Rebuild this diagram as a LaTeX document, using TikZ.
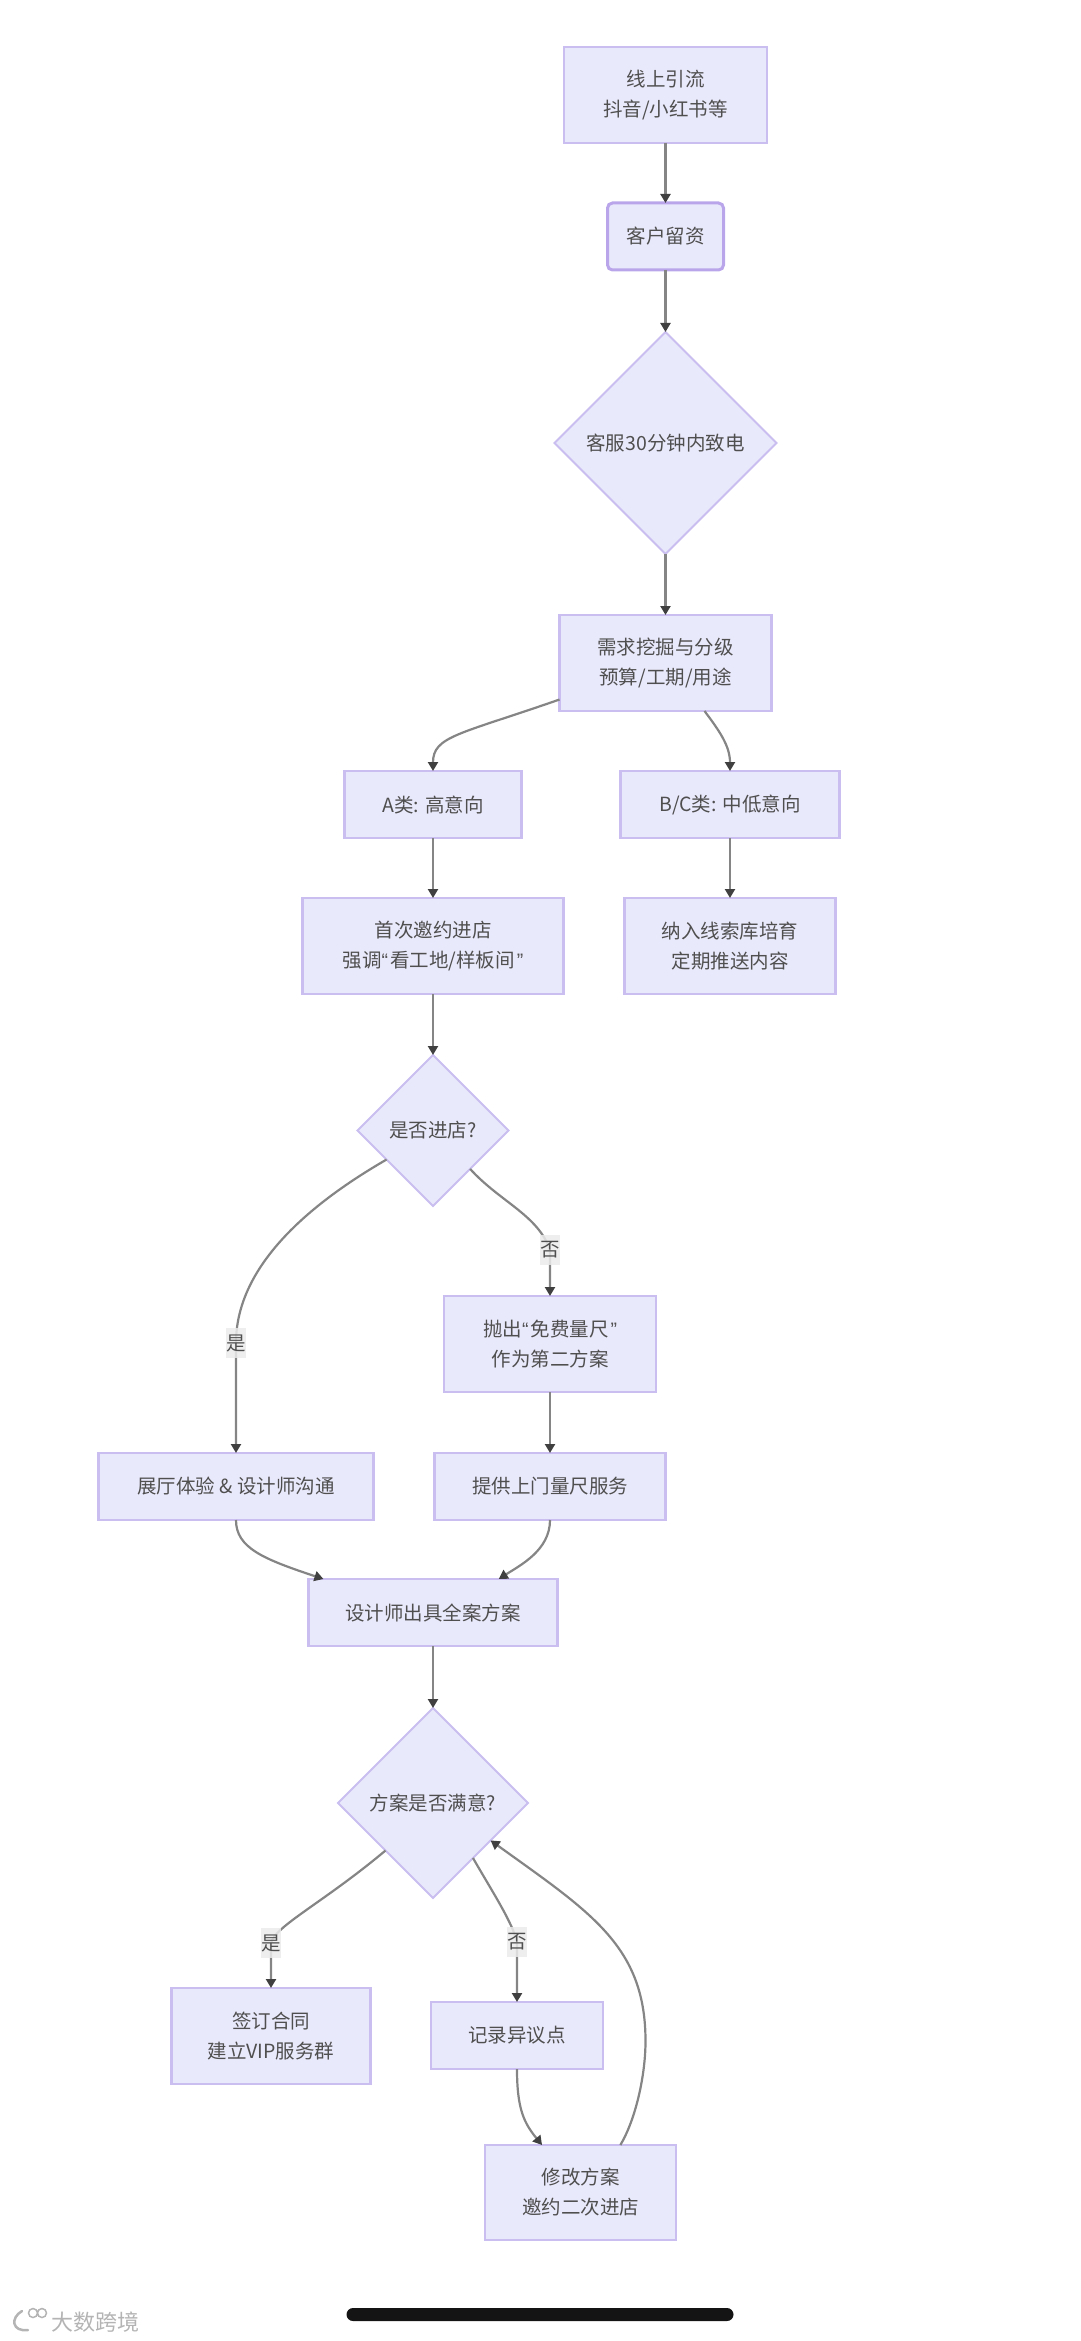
\documentclass[tikz,border=0pt]{standalone}
\usepackage{fontspec}
\setmainfont{Noto Sans CJK SC}
\newfontfamily\quotefont{Liberation Sans}
\usepackage{xcolor}
\usetikzlibrary{positioning,arrows.meta,shapes.geometric}
\definecolor{nodefill}{HTML}{E9E9FC}
\definecolor{nodeline}{HTML}{C9BEEF}
\definecolor{keyline}{HTML}{B9A6EA}
\definecolor{textgray}{HTML}{4F4F4F}
\definecolor{edgegray}{HTML}{858585}
\definecolor{tipgray}{HTML}{404040}
\definecolor{markgray}{HTML}{B4B4B4}
\newcommand{\qo}{{\quotefont “}\kern2pt}
\newcommand{\qc}{\kern2pt{\quotefont ”}}

\begin{document}
\begin{tikzpicture}[
  x=1pt, y=1pt,
  txt/.style={font=\fontsize{19.5}{30}\selectfont, text=textgray, align=center, inner sep=0pt, outer sep=0pt},
  box/.style={txt, draw=nodeline, line width=2.4pt, fill=nodefill, minimum height=#1},
  box/.default=67pt,
  choice/.style={txt, diamond, aspect=1, draw=nodeline, line width=2pt, fill=nodefill, minimum width=#1, minimum height=#1},
  arr/.style={draw=edgegray, line width=2.2pt, -{Triangle[length=9pt,width=10pt,color=tipgray]}},
  lbl/.style={txt, fill=black!8, fill opacity=0.85, text opacity=1, minimum width=20pt, minimum height=30pt}]
\useasboundingbox (0,0) rectangle (1080,-2341);
\node[box=96pt, minimum width=203pt] (lead) at (665.5,-95) {线上引流\\抖音/小红书等};
\node[box, minimum width=116pt, below=60pt of lead, draw=keyline, line width=3pt, rounded corners=5pt] (capture) {客户留资};
\node[choice=222pt, below=62pt of capture] (callD) {客服30分钟内致电};
\node[box=96pt, minimum width=212pt, below=61pt of callD] (need) {需求挖掘与分级\\预算/工期/用途};
\node[box, minimum width=177pt, below left=60pt and 38pt of need] (tierA) {A类: 高意向};
\node[box, minimum width=219pt, below right=60pt and -151pt of need] (tierB) {B/C类: 中低意向};
\node[box=96pt, minimum width=261pt, below=60pt of tierA] (invite) {首次邀约进店\\强调\qo 看工地/样板间\qc};
\node[box=96pt, minimum width=211pt, below=60pt of tierB] (nurture) {纳入线索库培育\\定期推送内容};
\node[choice=151pt, below=61pt of invite] (storeD) {是否进店?};
\node[box=96pt, minimum width=212pt, below=90pt of storeD, xshift=117pt] (pitch) {抛出\qo 免费量尺\qc\\作为第二方案};
\node[box, minimum width=231pt, below=61pt of pitch] (visit) {提供上门量尺服务};
\node[box, minimum width=275pt, left=61pt of visit] (hall) {展厅体验 \& 设计师沟通};
\node[box, minimum width=249pt, below left=59pt and -123pt of visit] (plan) {设计师出具全案方案};
\node[choice=190pt, below=62pt of plan] (planD) {方案是否满意?};
\node[box=96pt, minimum width=199pt, below=90pt of planD, xshift=-162pt] (sign) {签订合同\\建立VIP服务群};
\node[box, minimum width=172pt, below=104pt of planD, xshift=84pt] (record) {记录异议点};
\node[box=95pt, minimum width=191pt, below right=76pt and -118pt of record] (revise) {修改方案\\邀约二次进店};
\coordinate[above=110pt of hall] (yesStoreC);
\coordinate[above=46pt of pitch] (noStoreC);
\coordinate[above=45pt of sign] (yesPlanC);
\coordinate[above=60pt of record] (noPlanC);
\coordinate[above=104pt of revise, xshift=65pt] (bendC);
\draw[arr] (lead) -- (capture);
\draw[arr] (capture) -- (callD);
\draw[arr] (callD) -- (need);
\draw[arr] (need.199) .. controls +(-100,-35) and +(0,35) .. (tierA.north);
\draw[arr] ([xshift=39pt]need.south) .. controls +(15,-20) and +(0,25) .. (tierB.north);
\draw[arr] (tierA) -- (invite);
\draw[arr] (tierB) -- (nurture);
\draw[arr] (invite) -- (storeD);
\draw[arr] (storeD.212) .. controls +(-90,-52) and +(0,70) .. (yesStoreC) -- (hall.north);
\draw[arr] (storeD.314) .. controls +(30,-33) and +(-12,35) .. (noStoreC) -- (pitch.north);
\draw[arr] (pitch) -- (visit);
\draw[arr] (hall.south) .. controls +(0,-28) and +(-60,20) .. (plan.163);
\draw[arr] (visit.south) .. controls +(0,-30) and +(22,14) .. (plan.27);
\draw[arr] (plan) -- (planD);
\draw[arr] (planD.225) .. controls +(-62,-52) and +(4,17) .. (yesPlanC) -- (sign.north);
\draw[arr] (planD.306) .. controls +(22,-38) and +(-5,20) .. (noPlanC) -- (record.north);
\draw[arr] (record.south) .. controls +(0,-40) and +(-18,22) .. (revise.129);
\draw[arr] (revise.50) .. controls +(15,25) and +(0,-35) .. (bendC) .. controls +(0,95) and +(100,-72) .. (planD.327);
\node[lbl] (yesStore) at (yesStoreC) {是};
\node[lbl] (noStore) at (noStoreC) {否};
\node[lbl] (yesPlan) at (yesPlanC) {是};
\node[lbl] (noPlan) at (noPlanC) {否};
\node[fill=black!92, rounded corners=6.5pt, minimum width=387pt, minimum height=13pt, inner sep=0pt] (homeBar) at (540,-2314.5) {};
\node[txt, text=markgray, font=\fontsize{22}{24}\selectfont] (markText) at (95,-2322) {大数跨境};
\draw[markgray, line width=2.5pt, line cap=round] (22,-2311) .. controls (10,-2318) and (12,-2332) .. (28,-2330);
\draw[markgray, line width=1.5pt] (33,-2313) circle (4.5) (42,-2313) circle (4.5);
\end{tikzpicture}
\end{document}
